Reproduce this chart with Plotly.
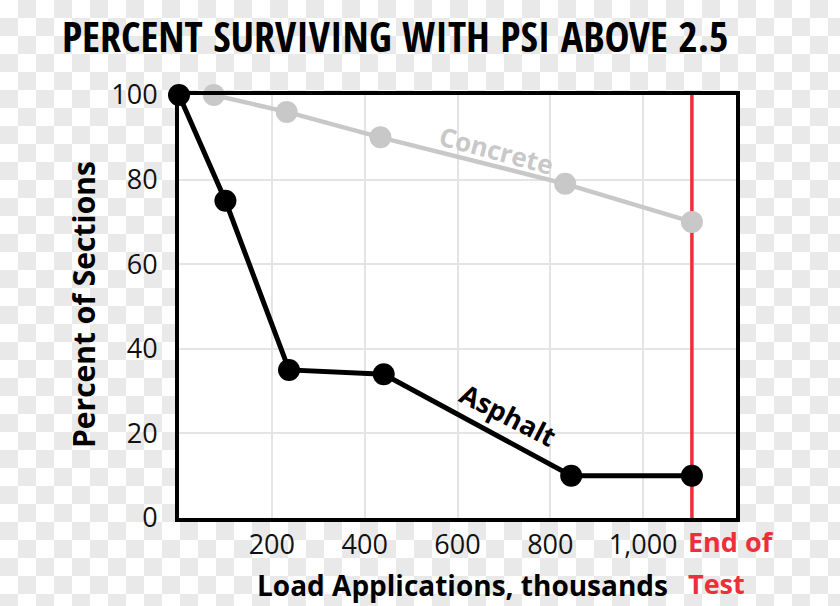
import plotly.graph_objects as go

# ---- data ----
asphalt_x = [0, 100, 237, 441, 845, 1105]
asphalt_y = [100, 75, 35, 34, 10, 10]
concrete_x = [75, 232, 434, 832, 1105]
concrete_y = [100, 96, 90, 79, 70]
end_of_test = 1105
x_tickvals = [200, 400, 600, 800, 1000]
x_ticktext = ["200", "400", "600", "800", "1,000"]
y_tickvals = [0, 20, 40, 60, 80, 100]
y_ticktext = ["0", "20", "40", "60", "80", "100"]

W, H = 840, 606
L, R, T, B = 179, 104, 95, 88
PW, PH = W - L - R, H - T - B


def px(x):
    return (x - L) / PW


def py(y):
    return (H - B - y) / PH


def checker_path(w, h, cell=18):
    parts = []
    for j in range((h + cell - 1) // cell):
        for i in range((w + cell - 1) // cell):
            if (i + j) % 2:
                x0, x1 = px(i * cell), px(min((i + 1) * cell, w))
                y0, y1 = py(j * cell), py(min((j + 1) * cell, h))
                parts.append(f"M{x0:.5f},{y0:.5f}H{x1:.5f}V{y1:.5f}H{x0:.5f}Z")
    return "".join(parts)


RED = "#ec2f3b"
GRAY = "#c8c8c8"
TICKFONT = dict(family="Open Sans, Liberation Sans, sans-serif", size=27, color="#111")
BOLD = "Open Sans, Liberation Sans, sans-serif"
COND = "Open Sans Condensed, Liberation Sans Narrow, DejaVu Sans Condensed, sans-serif"

fig = go.Figure()
fig.add_trace(go.Scatter(x=[end_of_test, end_of_test], y=[0, 100], mode="lines",
                         line=dict(color=RED, width=3.5), hoverinfo="skip", cliponaxis=False))
fig.add_trace(go.Scatter(x=concrete_x, y=concrete_y, mode="lines+markers",
                         line=dict(color=GRAY, width=4.5),
                         marker=dict(color=GRAY, size=22), cliponaxis=False))
fig.add_trace(go.Scatter(x=asphalt_x, y=asphalt_y, mode="lines+markers",
                         line=dict(color="black", width=5),
                         marker=dict(color="black", size=22), cliponaxis=False))

fig.update_layout(
    width=W, height=H,
    margin=dict(l=L, r=R, t=T, b=B),
    paper_bgcolor="#ffffff", plot_bgcolor="#ffffff",
    showlegend=False,
    shapes=[
        dict(type="path", path=checker_path(W, H), xref="paper", yref="paper",
             fillcolor="#e9e9e9", line=dict(width=0), layer="below"),
        dict(type="path", path="M0,0H1V1H0Z", xref="paper", yref="paper",
             fillcolor="#ffffff", line=dict(width=0), layer="below"),
    ],
    xaxis=dict(range=[0, 1200], tickvals=x_tickvals, ticktext=x_ticktext,
               showgrid=True, gridcolor="#e4e4e4", gridwidth=2,
               showline=True, linecolor="black", linewidth=4, mirror=True,
               zeroline=False, ticks="", tickfont=TICKFONT, ticklabelstandoff=0),
    yaxis=dict(range=[0, 100], tickvals=y_tickvals, ticktext=y_ticktext,
               showgrid=True, gridcolor="#e4e4e4", gridwidth=2,
               showline=True, linecolor="black", linewidth=4, mirror=True,
               zeroline=False, ticks="", tickfont=TICKFONT, ticklabelstandoff=12),
)

ann = [
    dict(text="<b>PERCENT SURVIVING WITH PSI ABOVE 2.5</b>", x=px(395), y=py(35),
         font=dict(family=COND, size=42, color="black")),
    dict(text="<b>Percent of Sections</b>", x=px(83), y=py(305), textangle=-90,
         font=dict(family=BOLD, size=30, color="black")),
    dict(text="<b>Load Applications, thousands</b>", x=px(462), y=py(585),
         font=dict(family=BOLD, size=28, color="black")),
    dict(text="<b>End of</b>", x=px(686), y=py(541), xanchor="left",
         font=dict(family=BOLD, size=27, color=RED)),
    dict(text="<b>Test</b>", x=px(686), y=py(583), xanchor="left",
         font=dict(family=BOLD, size=27, color=RED)),
    dict(text="<b>Concrete</b>", x=px(496), y=py(150), textangle=15,
         font=dict(family=BOLD, size=26, color=GRAY)),
    dict(text="<b>Asphalt</b>", x=px(508), y=py(414), textangle=27,
         font=dict(family=BOLD, size=27, color="black")),
]
for a in ann:
    a.setdefault("xanchor", "center")
    fig.add_annotation(xref="paper", yref="paper", showarrow=False, yanchor="middle", **a)

fig.write_html("out.html")
